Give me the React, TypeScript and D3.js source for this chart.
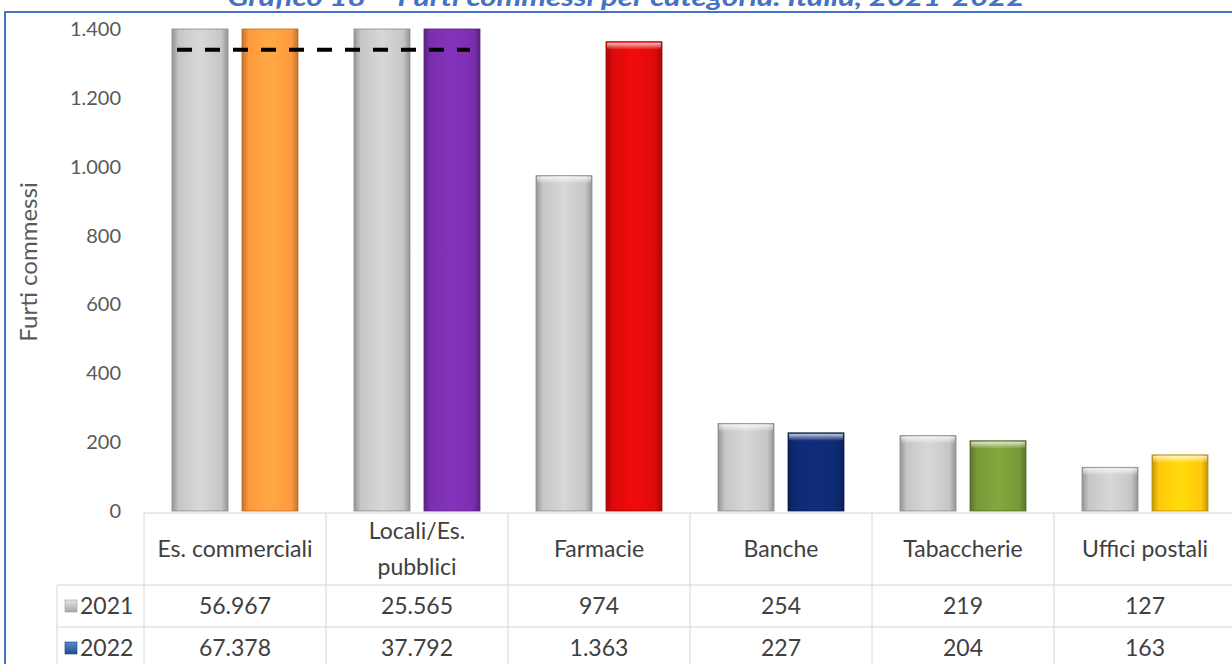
import React from "react";
import * as d3 from "d3";

const categories = ["Es. commerciali", "Locali/Es.\npubblici", "Farmacie", "Banche", "Tabaccherie", "Uffici postali"];
const years = ["2021", "2022"];
const values2021 = [56967, 25565, 974, 254, 219, 127];
const values2022 = [67378, 37792, 1363, 227, 204, 163];
const yTicks = [0, 200, 400, 600, 800, 1000, 1200, 1400];
const colors2022 = ["#FF9A3E", "#7A2FAE", "#DD0A0A", "#0E2A72", "#779A38", "#FFC80A"];
const color2021 = "#C6C6C6";
const breakValue = 1340;

const W = 1232;
const H = 664;
const FONT = "Lato, 'Open Sans', sans-serif";

const fmt = d3
  .formatLocale({ decimal: ",", thousands: ".", grouping: [3], currency: ["€", ""] })
  .format(",d");

export default function App() {
  const plotLeft = 144;
  const plotRight = 1236;
  const yTop = 29;
  const yBase = 511;
  const tableTop = 513;
  const headerBottom = 585;
  const row1Bottom = 627;
  const rowH = 42;
  const rowLabelLeft = 57;

  const x0 = d3.scaleBand<string>().domain(categories).range([plotLeft, plotRight]).padding(0);
  const x1 = d3.scaleBand<string>().domain(years).range([28, 154]).paddingInner(0.2);
  const y = d3.scaleLinear().domain([0, 1400]).range([yBase, yTop]);
  const yMax = y.domain()[1];

  const series = [
    { year: years[0], values: values2021, colors: categories.map(() => color2021) },
    { year: years[1], values: values2022, colors: colors2022 },
  ];

  const allColors = Array.from(new Set([color2021, ...colors2022]));
  const gradId = (c: string) => "g" + c.replace("#", "");

  const breakX1 = (x0(categories[0]) ?? 0) + (x1(years[0]) ?? 0) + 5;
  const breakX2 = (x0(categories[1]) ?? 0) + (x1(years[1]) ?? 0) + x1.bandwidth() - 10;

  const grid = "#D6D6D6";
  const textCol = "#404040";
  const tableFont = 23;

  return (
    <svg
      width={W}
      height={H}
      style={{ position: "absolute", left: 0, top: 0, background: "#fff" }}
      fontFamily={FONT}
    >
      <defs>
        {allColors.map((c) => {
          const base = d3.color(c)!;
          return (
            <linearGradient key={c} id={gradId(c)} x1="0" x2="1" y1="0" y2="0">
              <stop offset="0" stopColor={base.darker(0.8).formatHex()} />
              <stop offset="0.12" stopColor={c} />
              <stop offset="0.5" stopColor={base.brighter(0.25).formatHex()} />
              <stop offset="0.88" stopColor={c} />
              <stop offset="1" stopColor={base.darker(0.8).formatHex()} />
            </linearGradient>
          );
        })}
        <linearGradient id="topBevel" x1="0" x2="0" y1="0" y2="1">
          <stop offset="0" stopColor="#ffffff" stopOpacity="0.75" />
          <stop offset="1" stopColor="#ffffff" stopOpacity="0" />
        </linearGradient>
        <linearGradient id="legBlue" x1="0" x2="0" y1="0" y2="1">
          <stop offset="0" stopColor="#5A8BD0" />
          <stop offset="1" stopColor="#1F4E8C" />
        </linearGradient>
        <linearGradient id="legGray" x1="0" x2="0" y1="0" y2="1">
          <stop offset="0" stopColor="#E4E4E4" />
          <stop offset="1" stopColor="#A8A8A8" />
        </linearGradient>
      </defs>

      {/* Title (partly cut at top, as in the reference) */}
      <text
        x={626}
        y={6}
        textAnchor="middle"
        fontSize={24}
        fontWeight="bold"
        fontStyle="italic"
        fill="#4472C4"
        textLength={797}
        lengthAdjust="spacingAndGlyphs"
      >
        Grafico 18 – Furti commessi per categoria. Italia, 2021-2022
      </text>

      {/* Frame */}
      <rect x={5} y={12} width={1240} height={700} fill="none" stroke="#4472C4" strokeWidth={2} />

      {/* Y axis label */}
      <text
        transform={`translate(37, 262) rotate(-90)`}
        textAnchor="middle"
        fontSize={24}
        fill="#595959"
      >
        Furti commessi
      </text>

      {/* Y ticks */}
      {yTicks.map((t) => (
        <text key={t} x={121} y={y(t)} dy="0.35em" textAnchor="end" fontSize={20} fill="#595959">
          {fmt(t)}
        </text>
      ))}

      {/* Bars */}
      {series.map((s) =>
        categories.map((c, i) => {
          const v = Math.min(s.values[i], yMax);
          const bx = (x0(c) ?? 0) + (x1(s.year) ?? 0);
          const by = y(v);
          const bh = yBase - by;
          const clipped = s.values[i] > yMax;
          return (
            <g key={s.year + c}>
              <rect
                x={bx}
                y={by}
                width={x1.bandwidth()}
                height={bh}
                fill={`url(#${gradId(s.colors[i])})`}
                stroke={d3.color(s.colors[i])!.darker(1).formatHex()}
                strokeWidth={0.8}
              />
              {!clipped && (
                <rect x={bx + 1} y={by + 1} width={x1.bandwidth() - 2} height={7} fill="url(#topBevel)" />
              )}
            </g>
          );
        })
      )}

      {/* Axis break dashed line */}
      <line
        x1={breakX1}
        x2={breakX2}
        y1={y(breakValue)}
        y2={y(breakValue)}
        stroke="#000"
        strokeWidth={4}
        strokeDasharray="15 13"
      />

      {/* Data table grid */}
      <line x1={plotLeft} x2={plotRight} y1={tableTop} y2={tableTop} stroke={grid} />
      <line x1={rowLabelLeft} x2={plotRight} y1={headerBottom} y2={headerBottom} stroke={grid} />
      <line x1={rowLabelLeft} x2={plotRight} y1={row1Bottom} y2={row1Bottom} stroke={grid} />
      <line x1={rowLabelLeft} x2={rowLabelLeft} y1={headerBottom} y2={H} stroke={grid} />
      {categories.map((c) => (
        <line key={"v" + c} x1={x0(c)!} x2={x0(c)!} y1={tableTop} y2={H} stroke={grid} />
      ))}

      {/* Header labels */}
      {categories.map((c) => {
        const lines = c.split("\n");
        const cx = (x0(c) ?? 0) + x0.bandwidth() / 2;
        const cy = (tableTop + headerBottom) / 2;
        return (
          <text key={"h" + c} x={cx} textAnchor="middle" fontSize={tableFont} fill={textCol}>
            {lines.map((l, k) => (
              <tspan key={k} x={cx} y={cy + (k - (lines.length - 1) / 2) * 36} dy="0.35em">
                {l}
              </tspan>
            ))}
          </text>
        );
      })}

      {/* Rows */}
      {series.map((s, r) => {
        const rowTop = headerBottom + r * rowH;
        const cy = rowTop + rowH / 2;
        return (
          <g key={"row" + s.year}>
            <rect
              x={65}
              y={cy - 6}
              width={12}
              height={12}
              fill={r === 0 ? "url(#legGray)" : "url(#legBlue)"}
              stroke={r === 0 ? "#9A9A9A" : "#1A3F73"}
              strokeWidth={0.6}
            />
            <text x={80} y={cy} dy="0.35em" fontSize={tableFont} fill={textCol}>
              {s.year}
            </text>
            {categories.map((c, i) => (
              <text
                key={c}
                x={(x0(c) ?? 0) + x0.bandwidth() / 2}
                y={cy}
                dy="0.35em"
                textAnchor="middle"
                fontSize={tableFont}
                fill={textCol}
              >
                {fmt(s.values[i])}
              </text>
            ))}
          </g>
        );
      })}
    </svg>
  );
}
